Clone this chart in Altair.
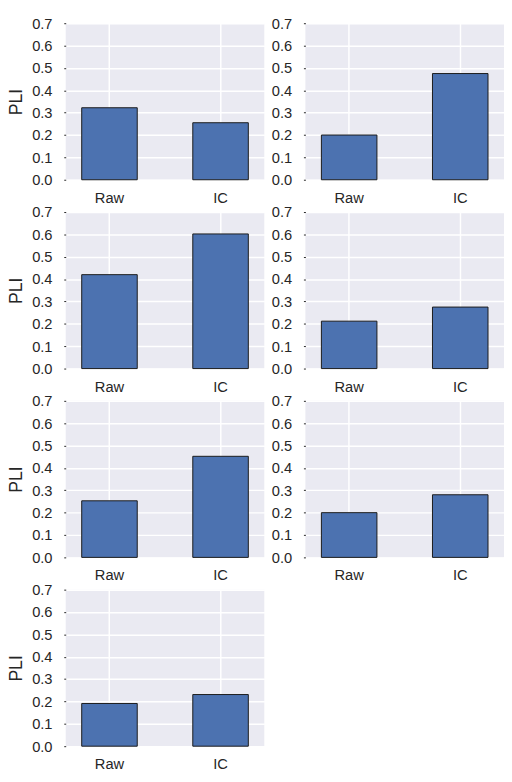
import altair as alt
import pandas as pd

cats = ["Raw", "IC"]
panel_values = [
    [0.322, 0.255],
    [0.200, 0.475],
    [0.420, 0.602],
    [0.212, 0.275],
    [0.253, 0.452],
    [0.200, 0.280],
    [0.191, 0.231],
]
y_ticks = [0.0, 0.1, 0.2, 0.3, 0.4, 0.5, 0.6, 0.7]

FONT = "Liberation Sans"


def panel(vals, left):
    df = pd.DataFrame({"cond": cats, "PLI": vals})
    return (
        alt.Chart(df)
        .mark_bar(color="#4C72B0", stroke="#1a1a1a", strokeWidth=1)
        .encode(
            x=alt.X(
                "cond:N",
                sort=cats,
                scale=alt.Scale(paddingInner=0.5, paddingOuter=0.144),
                axis=alt.Axis(
                    title=None,
                    labelAngle=0,
                    bandPosition=0.5,
                    ticks=False,
                    tickSize=0,
                    labelPadding=11,
                ),
            ),
            y=alt.Y(
                "PLI:Q",
                scale=alt.Scale(domain=[0, 0.7], nice=False),
                axis=alt.Axis(
                    title="PLI" if left else None,
                    values=y_ticks,
                    format=".1f",
                    tickSize=2,
                    labelPadding=12,
                    titlePadding=10,
                    titleBaseline="alphabetic",
                ),
            ),
        )
        .properties(width=203, height=160)
    )


rows = []
for i in range(0, len(panel_values), 2):
    items = [panel(panel_values[i], True)]
    if i + 1 < len(panel_values):
        items.append(panel(panel_values[i + 1], False))
    rows.append(alt.hconcat(*items, spacing=7))

chart = (
    alt.vconcat(*rows, spacing=0)
    .properties(padding=0)
    .configure_view(fill="#EAEAF2", stroke=None)
    .configure_axis(
        grid=True,
        gridColor="white",
        gridWidth=1.5,
        domain=False,
        tickColor="#262626",
        labelFont=FONT,
        labelFontSize=15,
        labelColor="#262626",
        titleFont=FONT,
        titleFontSize=18,
        titleFontWeight="normal",
        titleColor="#262626",
    )
)

chart.save("out.html", embed_options={"renderer": "svg", "actions": False})
